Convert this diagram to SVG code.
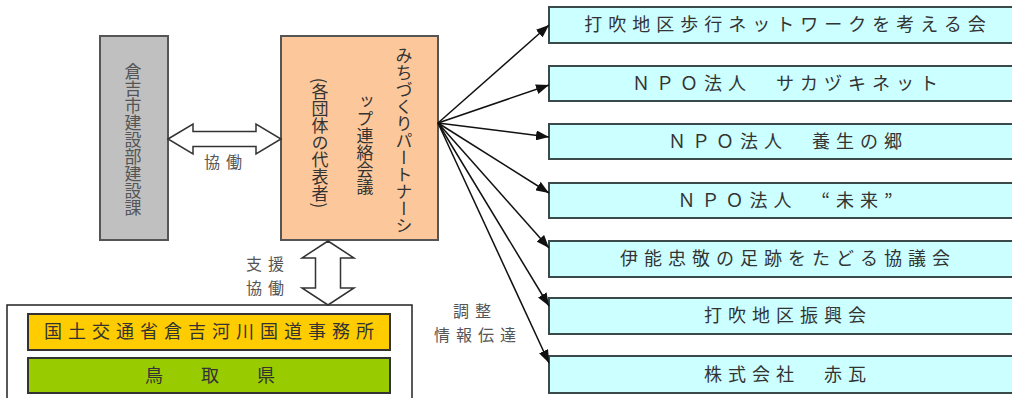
<svg xmlns="http://www.w3.org/2000/svg" width="1012" height="398" viewBox="0 0 1012 398">
<style>
text{font-family:"Noto Sans CJK JP","Noto Sans",sans-serif}
.org{fill:#CCFFFF;stroke:#3A4A4A;stroke-width:2}
.otx{font-size:18px;letter-spacing:6px;fill:#333;text-anchor:middle}
.vt{writing-mode:vertical-rl;font-size:17px;text-anchor:middle}
.lbl{font-size:16px;fill:#555;text-anchor:middle;letter-spacing:6px}
.conn{stroke:#111;stroke-width:1.5;fill:none}
.dbl{fill:#fff;stroke:#333;stroke-width:1.5;stroke-linejoin:miter}
</style>
<defs>
<marker id="ah" markerUnits="userSpaceOnUse" markerWidth="14" markerHeight="10" refX="13" refY="5" orient="auto">
<path d="M0,0 L13,5 L0,10 z" fill="#111"/>
</marker>
</defs>

<g id="city">
<rect x="100" y="36" width="68" height="204" fill="#C0C0C0" stroke="#555" stroke-width="2"/>
<text class="vt" x="133" y="140" fill="#555">倉吉市建設部建設課</text>
</g>

<g id="council">
<rect x="281" y="36" width="157" height="204" fill="#FCC89B" stroke="#555" stroke-width="2"/>
<text class="vt" x="404" y="141" fill="#333">みちづくりパートナーシ</text>
<text class="vt" x="365" y="144" fill="#333">ップ連絡会議</text>
<text class="vt" x="320" y="143" fill="#333">(各団体の代表者)</text>
</g>

<g id="gov">
<rect x="7" y="305" width="405" height="100" fill="#fff" stroke="#222" stroke-width="1.5"/>
<g id="mlit">
<rect x="28" y="314" width="362" height="36" fill="#FFCC00" stroke="#333" stroke-width="2"/>
<text class="otx" x="212" y="338">国土交通省倉吉河川国道事務所</text>
</g>
<g id="pref">
<rect x="28" y="358" width="362" height="35" fill="#99CC00" stroke="#333" stroke-width="2"/>
<text x="215" y="382" font-size="18" fill="#333" text-anchor="middle" letter-spacing="10">鳥　取　県</text>
</g>
</g>

<g id="org1"><rect class="org" x="549" y="7" width="475" height="36"/><text class="otx" x="788" y="31">打吹地区歩行ネットワークを考える会</text></g>
<g id="org2"><rect class="org" x="549" y="66" width="475" height="35"/><text class="otx" x="788" y="90">ＮＰＯ法人　サカヅキネット</text></g>
<g id="org3"><rect class="org" x="549" y="124" width="475" height="35"/><text class="otx" x="788" y="148">ＮＰＯ法人　養生の郷</text></g>
<g id="org4"><rect class="org" x="549" y="183" width="475" height="35"/><text class="otx" x="788" y="207">ＮＰＯ法人　“未来”</text></g>
<g id="org5"><rect class="org" x="549" y="241" width="475" height="36"/><text class="otx" x="788" y="265">伊能忠敬の足跡をたどる協議会</text></g>
<g id="org6"><rect class="org" x="549" y="298" width="475" height="36"/><text class="otx" x="788" y="322">打吹地区振興会</text></g>
<g id="org7"><rect class="org" x="549" y="356" width="475" height="37"/><text class="otx" x="788" y="381">株式会社　赤瓦</text></g>

<g id="connectors">
<polygon class="dbl" points="168,139 193,124 193,131.5 256,131.5 256,124 281,139 256,154 256,146.5 193,146.5 193,154"/>
<polygon class="dbl" points="328,241 354,258 340.5,258 340.5,288 354,288 328,305 302,288 315.5,288 315.5,258 302,258"/>
<line class="conn" x1="438" y1="123" x2="549" y2="25" marker-end="url(#ah)"/>
<line class="conn" x1="438" y1="123" x2="549" y2="85" marker-end="url(#ah)"/>
<line class="conn" x1="438" y1="123" x2="549" y2="137" marker-end="url(#ah)"/>
<line class="conn" x1="438" y1="123" x2="549" y2="193" marker-end="url(#ah)"/>
<line class="conn" x1="438" y1="123" x2="549" y2="248" marker-end="url(#ah)"/>
<line class="conn" x1="438" y1="123" x2="549" y2="306" marker-end="url(#ah)"/>
<line class="conn" x1="438" y1="123" x2="549" y2="363" marker-end="url(#ah)"/>
<text class="lbl" x="226" y="168" font-size="18" letter-spacing="5">協働</text>
<text class="lbl" x="268" y="270">支援</text>
<text class="lbl" x="268" y="294">協働</text>
<text class="lbl" x="475" y="317" letter-spacing="6">調整</text>
<text class="lbl" x="478" y="341" letter-spacing="6">情報伝達</text>
</g>
</svg>
